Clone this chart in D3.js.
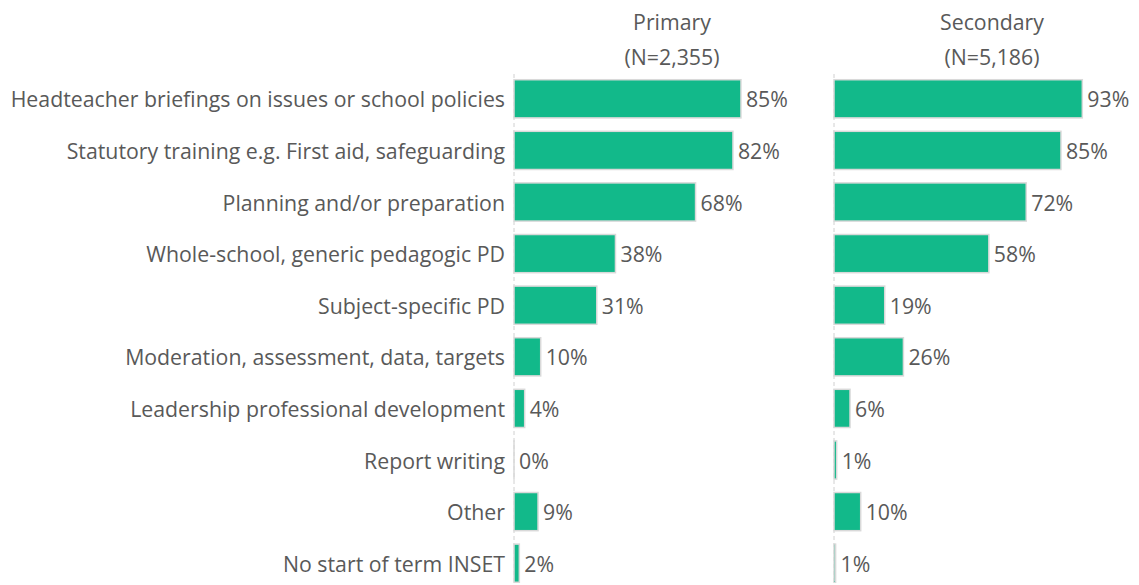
<!DOCTYPE html>
<html>
<head>
<meta charset="utf-8">
<script src="https://cdn.jsdelivr.net/npm/d3@7"></script>
<style>
  body { margin: 0; background: white; }
  text { font-family: "Open Sans", Lato, sans-serif; fill: #595959; }
</style>
</head>
<body>
<svg id="chart" width="1139" height="585"></svg>
<script>
const categories = [
    "Headteacher briefings on issues or school policies",
    "Statutory training e.g. First aid, safeguarding",
    "Planning and/or preparation",
    "Whole-school, generic pedagogic PD",
    "Subject-specific PD",
    "Moderation, assessment, data, targets",
    "Leadership professional development",
    "Report writing",
    "Other",
    "No start of term INSET"
]
const panelTitles = ["Primary", "Secondary"]
const panelNs = ["(N=2,355)", "(N=5,186)"]
const primaryValues = [85, 82, 68, 38, 31, 10, 4, 0, 9, 2]
const secondaryValues = [93, 85, 72, 58, 19, 26, 6, 1, 10, 0.6]

const svg = d3.select("#chart")

const green = "#12b98a"
const outline = "#d9d9d9"
const fontSize = "21.3px"

// both panels share the same x scale, only the origin moves
const panelX = [514, 834]
const x = d3.scaleLinear().domain([0, 100]).range([0, 267])

const y = d3.scaleBand()
    .domain(categories)
    .range([73, 589])
    .paddingInner(0.26)
    .paddingOuter(0.13)

// category labels
svg.append("g")
    .selectAll("text")
    .data(categories)
    .join("text")
    .attr("x", 505)
    .attr("y", d => y(d) + y.bandwidth() / 2)
    .attr("text-anchor", "end")
    .attr("dominant-baseline", "central")
    .style("font-size", fontSize)
    .text(d => d)

const panels = [primaryValues, secondaryValues]

panels.forEach((values, i) => {
    const g = svg.append("g")
        .attr("transform", `translate(${panelX[i]},0)`)

    // dashed baseline
    g.append("line")
        .attr("x1", 0).attr("x2", 0)
        .attr("y1", 74).attr("y2", 585)
        .attr("stroke", "#d0d0d0")
        .attr("stroke-width", 1)
        .attr("stroke-dasharray", "4,3")

    g.append("text")
        .attr("x", 158)
        .attr("y", 21)
        .attr("text-anchor", "middle")
        .attr("dominant-baseline", "central")
        .style("font-size", fontSize)
        .text(panelTitles[i])

    g.append("text")
        .attr("x", 158)
        .attr("y", 56)
        .attr("text-anchor", "middle")
        .attr("dominant-baseline", "central")
        .style("font-size", fontSize)
        .text(panelNs[i])

    const data = categories.map((c, k) => ({ cat: c, val: values[k] }))

    // a zero-width rect is not drawn, so keep a hair of width for the outline
    g.selectAll("rect")
        .data(data)
        .join("rect")
        .attr("x", 0)
        .attr("y", d => y(d.cat))
        .attr("width", d => Math.max(x(d.val), 0.01))
        .attr("height", y.bandwidth())
        .attr("fill", green)
        .attr("stroke", outline)
        .attr("stroke-width", 1.5)

    g.selectAll(".valueLabel")
        .data(data)
        .join("text")
        .attr("class", "valueLabel")
        .attr("x", d => x(d.val) + 5)
        .attr("y", d => y(d.cat) + y.bandwidth() / 2)
        .attr("dominant-baseline", "central")
        .style("font-size", fontSize)
        .text(d => Math.round(d.val) + "%")
})
</script>
</body>
</html>
